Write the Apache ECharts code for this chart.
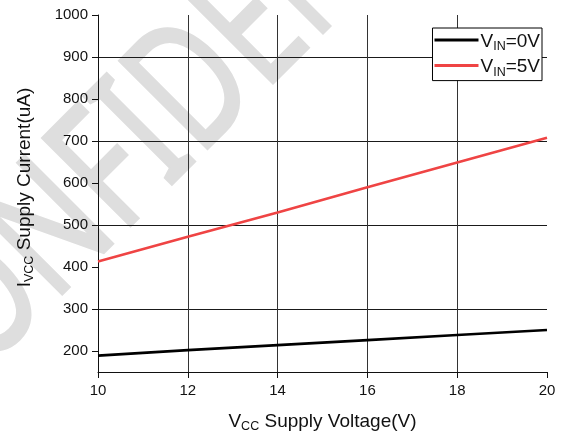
<!DOCTYPE html>
<html>
<head>
<meta charset="utf-8">
<style>
  html, body { margin: 0; padding: 0; background: #fff; }
  #chart { width: 562px; height: 438px; }
</style>
<script src="https://cdn.jsdelivr.net/npm/echarts@6/dist/echarts.min.js"></script>
</head>
<body>
<div id="chart"></div>
<script>
// Supply voltage sweep (V)
const vcc = [10, 12, 14, 16, 18, 20];
// Supply current (uA) for each input condition
const iccVin0 = [189, 202, 214, 226, 238, 250];
const iccVin5 = [413, 472, 530, 590, 649, 708];
// Axis tick labels
const xTicks = [10, 12, 14, 16, 18, 20];
const yTicks = [200, 300, 400, 500, 600, 700, 800, 900, 1000];

const FONT = 'Liberation Sans, Arial, sans-serif';

const chart = echarts.init(document.getElementById('chart'), null, { renderer: 'canvas' });

const pairs = (xs, ys) => xs.map((x, i) => [x, ys[i]]);

// Main text plus a lowered, smaller subscript token
const richSub = {
  a: { fontFamily: FONT, fontSize: 19, color: '#111', lineHeight: 22, verticalAlign: 'bottom' },
  b: { fontFamily: FONT, fontSize: 12.5, color: '#111', lineHeight: 12, verticalAlign: 'bottom', padding: [0, 0, -2, 0] }
};
const richLegend = {
  a: { fontFamily: FONT, fontSize: 19, color: '#111', lineHeight: 22, verticalAlign: 'bottom' },
  b: { fontFamily: FONT, fontSize: 12.5, color: '#111', lineHeight: 12, verticalAlign: 'bottom', padding: [0, 0, -2, 0] }
};

chart.setOption({
  backgroundColor: '#fff',
  animation: false,
  graphic: [{
    // diagonal watermark behind the plot
    type: 'text',
    z: -10,
    silent: true,
    x: -107,
    y: 393,
    rotation: Math.PI / 4,
    scaleX: 0.73,
    style: {
      text: 'CONFIDENTIAL',
      fontFamily: 'Noto Sans, sans-serif',
      fontSize: 174,
      fill: '#dedede',
      stroke: '#dedede',
      lineWidth: 3,
      verticalAlign: 'middle',
      align: 'left'
    }
  }],
  grid: { left: 98, right: 15, top: 15, bottom: 62 },
  legend: {
    right: 20,
    top: 28,
    orient: 'vertical',
    backgroundColor: '#fff',
    borderColor: '#000',
    borderWidth: 1,
    borderRadius: 0,
    padding: [1, 2, 2, 2],
    itemGap: 1.6,
    itemWidth: 44,
    itemHeight: 3,
    icon: 'rect',
    data: [
      { name: 'VIN=0V' },
      { name: 'VIN=5V' }
    ],
    formatter: function (name) {
      return name === 'VIN=0V' ? '{a|V}{b|IN}{a|=0V}' : '{a|V}{b|IN}{a|=5V}';
    },
    textStyle: { rich: richLegend, lineHeight: 22, padding: [0, 0, 0, -3] }
  },
  xAxis: {
    type: 'value',
    min: 10,
    max: 20,
    interval: 2,
    name: '{a|V}{b|CC}{a| Supply Voltage(V)}',
    nameLocation: 'middle',
    nameGap: 37,
    nameTextStyle: { rich: richSub },
    axisLine: { show: true, lineStyle: { color: '#111', width: 1 } },
    axisTick: { show: true, inside: false, length: 6, lineStyle: { color: '#111' } },
    axisLabel: {
      margin: 11,
      fontFamily: FONT,
      fontSize: 15,
      color: '#111',
      customValues: xTicks,
      formatter: (v) => String(v)
    },
    splitLine: { show: true, showMinLine: false, showMaxLine: false, lineStyle: { color: '#333', width: 1 } }
  },
  yAxis: {
    type: 'value',
    min: 150,
    max: 1000,
    interval: 50,
    name: '{a|I}{b|VCC}{a| Supply Current(uA)}',
    nameLocation: 'middle',
    nameRotate: 90,
    nameGap: 64,
    nameTextStyle: { rich: richSub, padding: [0, 0, 0, 12] },
    axisLine: { show: true, lineStyle: { color: '#111', width: 1 } },
    axisTick: { show: true, inside: false, length: 6, lineStyle: { color: '#111' }, customValues: yTicks },
    axisLabel: {
      margin: 10,
      fontFamily: FONT,
      fontSize: 15,
      color: '#111',
      customValues: yTicks,
      formatter: (v) => String(v)
    },
    splitLine: {
      show: true,
      showMaxLine: false,
      lineStyle: { color: ['rgba(0,0,0,0)', '#1a1a1a'], width: 1 }
    }
  },
  series: [
    {
      name: 'VIN=0V',
      type: 'line',
      data: pairs(vcc, iccVin0),
      symbol: 'none',
      color: '#000',
      lineStyle: { color: '#000', width: 2.6 }
    },
    {
      name: 'VIN=5V',
      type: 'line',
      data: pairs(vcc, iccVin5),
      symbol: 'none',
      color: '#ef4444',
      lineStyle: { color: '#ef4444', width: 2.6 }
    }
  ]
});
</script>
</body>
</html>
